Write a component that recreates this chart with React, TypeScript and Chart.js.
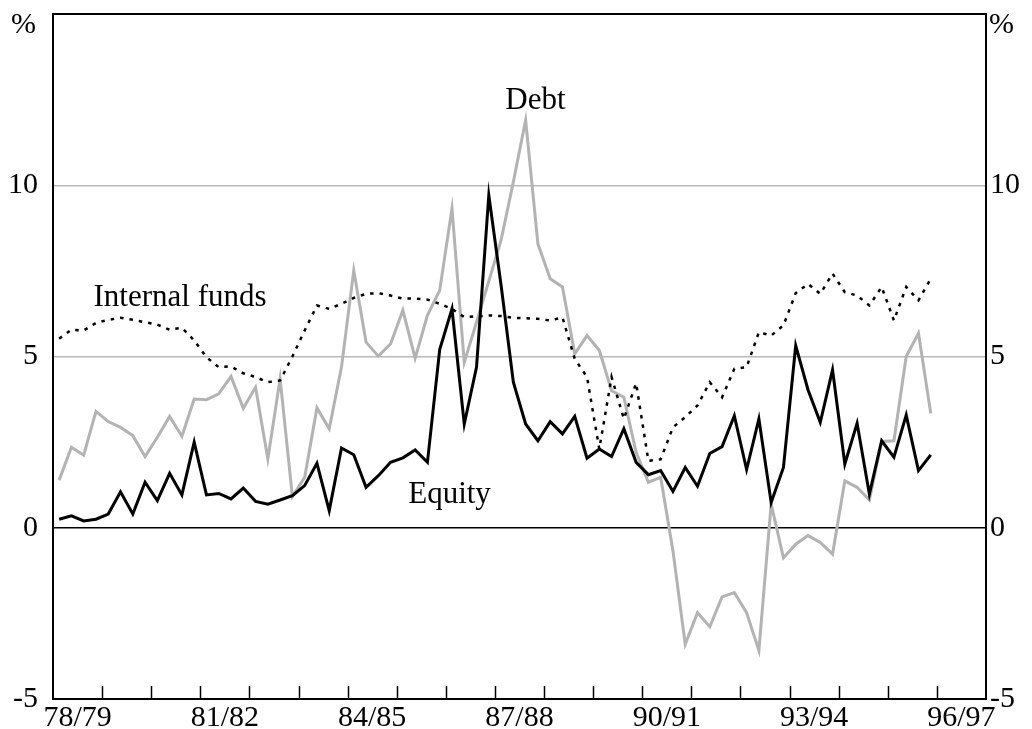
import React, { useEffect, useRef } from 'react';
import { Chart, registerables } from 'chart.js';

Chart.register(...registerables);

// Quarterly data, Sep-1978 quarter (78/79 Q1) to Jun-1996 quarter (95/96 Q4)
const equity = [
  0.25, 0.35, 0.2, 0.25, 0.4, 1.05, 0.4, 1.33, 0.79, 1.59, 0.96, 2.5,
  0.96, 1.0, 0.84, 1.16, 0.77, 0.69, 0.81, 0.94, 1.23, 1.88, 0.5, 2.33,
  2.13, 1.18, 1.52, 1.91, 2.04, 2.27, 1.91, 5.2, 6.39, 3.03, 4.69, 9.71,
  7.08, 4.25, 3.03, 2.54, 3.1, 2.74, 3.25, 2.03, 2.3, 2.08, 2.89, 1.91,
  1.55, 1.67, 1.06, 1.76, 1.21, 2.17, 2.37, 3.27, 1.7, 3.18, 0.74, 1.76,
  5.32, 4.03, 3.08, 4.61, 1.86, 3.05, 0.98, 2.54, 2.06, 3.29, 1.67, 2.13,
];

const debt = [
  1.39, 2.35, 2.12, 3.4, 3.1, 2.93, 2.69, 2.08, 2.64, 3.25, 2.67, 3.76,
  3.74, 3.91, 4.42, 3.49, 4.1, 2.01, 4.35, 0.91, 1.47, 3.5, 2.89, 4.69,
  7.51, 5.42, 5.01, 5.37, 6.35, 4.95, 6.2, 6.93, 9.32, 4.83, 6.0, 7.2,
  8.4, 10.1, 11.9, 8.29, 7.27, 7.03, 5.08, 5.61, 5.18, 4.0, 3.81, 2.2,
  1.33, 1.47, -0.67, -3.4, -2.48, -2.89, -2.02, -1.89, -2.48, -3.58, 0.69, -0.88,
  -0.48, -0.23, -0.43, -0.77, 1.37, 1.18, 0.81, 2.52, 2.54, 5.0, 5.68, 3.34,
];

const internalFunds = [
  5.52, 5.78, 5.76, 5.98, 6.07, 6.13, 6.07, 6.0, 5.93, 5.78, 5.84, 5.47,
  4.98, 4.69, 4.71, 4.51, 4.4, 4.25, 4.3, 5.0, 5.76, 6.49, 6.39, 6.54,
  6.71, 6.83, 6.85, 6.78, 6.69, 6.69, 6.66, 6.54, 6.39, 6.15, 6.17, 6.2,
  6.18, 6.13, 6.12, 6.1, 6.05, 6.14, 4.93, 4.4, 2.3, 4.4, 3.18, 4.22,
  1.95, 2.0, 2.93, 3.23, 3.57, 4.25, 3.81, 4.64, 4.69, 5.71, 5.61, 5.91,
  6.85, 7.12, 6.83, 7.42, 6.88, 6.78, 6.49, 7.03, 6.05, 7.03, 6.64, 7.27,
];

// Fiscal years on the x axis (each year = 4 quarters)
const fiscalYears = [
  '78/79', '79/80', '80/81', '81/82', '82/83', '83/84', '84/85', '85/86', '86/87', '87/88',
  '88/89', '89/90', '90/91', '91/92', '92/93', '93/94', '94/95', '95/96', '96/97',
];
const labelledYears = ['78/79', '81/82', '84/85', '87/88', '90/91', '93/94', '96/97'];
const yTicks = [-5, 0, 5, 10];
const Y_MIN = -5;
const Y_MAX = 15;

const FONT = "'Liberation Serif', 'Times New Roman', serif";
const TICK_SIZE = 30;
const NOTE_SIZE = 31;

const annotations = [
  { text: 'Debt', x: 39.3, y: 12.45 },
  { text: 'Internal funds', x: 10.35, y: 6.7 },
  { text: 'Equity', x: 32.3, y: 0.97 },
];

const toPoints = (arr: number[]) => arr.map((v, i) => ({ x: i + 0.5, y: v }));

const decorPlugin = {
  id: 'decor',
  afterDraw(chart: any) {
    const { ctx, chartArea, scales } = chart;
    const xs = scales.x;
    const ys = scales.y;
    ctx.save();
    // frame
    ctx.strokeStyle = '#000';
    ctx.lineWidth = 2;
    ctx.strokeRect(chartArea.left, chartArea.top, chartArea.right - chartArea.left, chartArea.bottom - chartArea.top);
    // inward year tick marks
    ctx.lineWidth = 1.5;
    for (let k = 1; k < fiscalYears.length; k++) {
      const px = Math.round(xs.getPixelForValue(k * 4)) + 0.5;
      ctx.beginPath();
      ctx.moveTo(px, chartArea.bottom);
      ctx.lineTo(px, chartArea.bottom - 13);
      ctx.stroke();
    }
    // % unit labels
    ctx.fillStyle = '#000';
    ctx.font = `${TICK_SIZE}px ${FONT}`;
    ctx.textBaseline = 'middle';
    ctx.textAlign = 'right';
    ctx.fillText('%', chartArea.left - 17, chartArea.top + 11);
    ctx.textAlign = 'left';
    ctx.fillText('%', chartArea.right + 3, chartArea.top + 11);
    // series annotations
    ctx.font = `${NOTE_SIZE}px ${FONT}`;
    ctx.textAlign = 'center';
    annotations.forEach((a) => {
      ctx.fillText(a.text, xs.getPixelForValue(a.x), ys.getPixelForValue(a.y));
    });
    ctx.restore();
  },
};

export default function App() {
  const ref = useRef<HTMLCanvasElement>(null);

  useEffect(() => {
    if (!ref.current) return;
    const gridColor = (ctx: any) => {
      const v = ctx.tick && ctx.tick.value;
      if (v === 0) return '#000';
      if (v === 5 || v === 10) return '#b9b9b9';
      return 'rgba(0,0,0,0)';
    };
    const yTickCallback = (v: any) => String(v);
    const fitY = (w: number) => (s: any) => {
      s.width = w;
      s.paddingTop = 0;
      s.paddingBottom = 0;
    };
    const chart = new Chart(ref.current, {
      type: 'line',
      data: {
        datasets: [
          {
            label: 'Equity',
            data: toPoints(equity),
            borderColor: '#000',
            borderWidth: 3,
            pointRadius: 0,
            tension: 0,
            order: 1,
          },
          {
            label: 'Internal funds',
            data: toPoints(internalFunds),
            borderColor: '#000',
            borderWidth: 2.5,
            borderDash: [3.5, 6],
            pointRadius: 0,
            tension: 0,
            order: 2,
          },
          {
            label: 'Debt',
            data: toPoints(debt),
            borderColor: '#b3b3b3',
            borderWidth: 3,
            pointRadius: 0,
            tension: 0,
            order: 3,
          },
        ],
      },
      options: {
        responsive: false,
        animation: false,
        layout: { padding: { top: 14, left: 0, right: 0, bottom: 0 } },
        plugins: {
          legend: { display: false },
          tooltip: { enabled: false },
        },
        scales: {
          x: {
            type: 'linear',
            min: 0,
            max: fiscalYears.length * 4,
            position: 'bottom',
            grid: { display: false, drawTicks: false },
            border: { display: true, color: '#000', width: 2 },
            afterBuildTicks: (axis: any) => {
              axis.ticks = labelledYears.map((y) => ({ value: fiscalYears.indexOf(y) * 4 + 2 }));
            },
            ticks: {
              autoSkip: false,
              maxRotation: 0,
              padding: 1,
              color: '#000',
              font: { family: FONT, size: TICK_SIZE },
              callback: (v: any) => fiscalYears[Math.floor(Number(v) / 4)],
            },
            afterFit: (s: any) => {
              s.height = 30;
              s.paddingLeft = 0;
              s.paddingRight = 0;
            },
          },
          y: {
            type: 'linear',
            position: 'left',
            min: Y_MIN,
            max: Y_MAX,
            afterBuildTicks: (axis: any) => {
              axis.ticks = yTicks.map((v) => ({ value: v }));
            },
            grid: { color: gridColor, lineWidth: 1.5, drawTicks: false },
            border: { display: true, color: '#000', width: 2 },
            ticks: {
              padding: 15,
              color: '#000',
              font: { family: FONT, size: TICK_SIZE },
              callback: yTickCallback,
            },
            afterFit: fitY(53),
          },
          y2: {
            type: 'linear',
            position: 'right',
            min: Y_MIN,
            max: Y_MAX,
            afterBuildTicks: (axis: any) => {
              axis.ticks = yTicks.map((v) => ({ value: v }));
            },
            grid: { display: false, drawTicks: false },
            border: { display: true, color: '#000', width: 2 },
            ticks: {
              padding: 4,
              color: '#000',
              font: { family: FONT, size: TICK_SIZE },
              callback: yTickCallback,
            },
            afterFit: fitY(46),
          },
        },
      },
      plugins: [decorPlugin],
    });
    return () => chart.destroy();
  }, []);

  return (
    <div style={{ position: 'fixed', left: 0, top: 0, width: 1032, height: 729, background: '#fff' }}>
      <canvas ref={ref} width={1032} height={729} style={{ width: 1032, height: 729, display: 'block' }} />
    </div>
  );
}
